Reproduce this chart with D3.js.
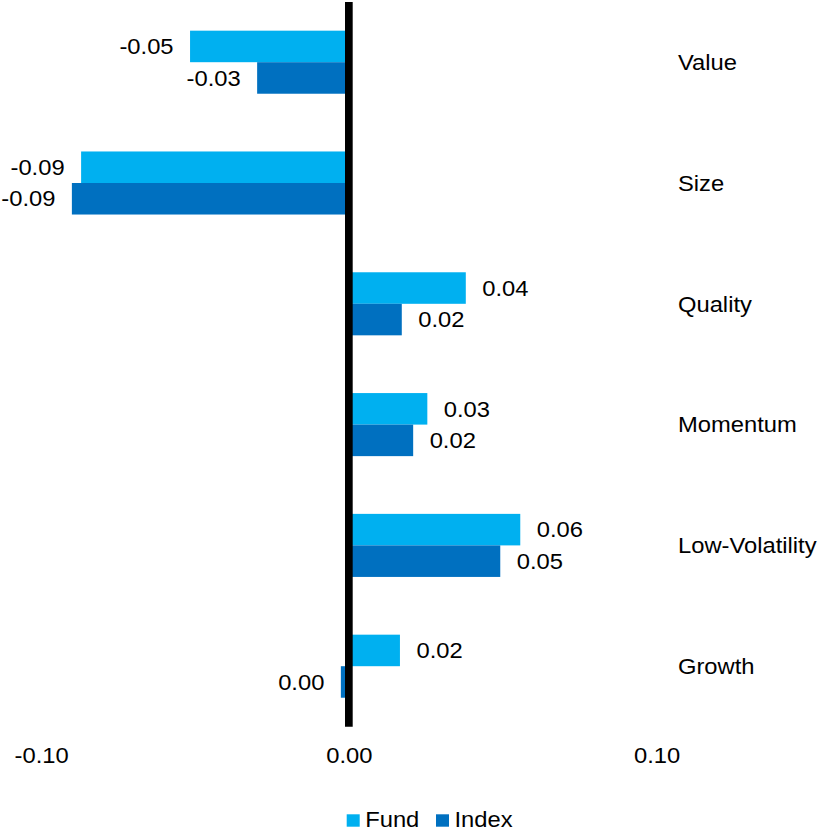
<!DOCTYPE html>
<html>
<head>
<meta charset="utf-8">
<script src="https://cdn.jsdelivr.net/npm/d3@7"></script>
<style>
  html, body { margin: 0; padding: 0; background: #fff; }
  svg { display: block; font-family: "Liberation Sans", Arial, sans-serif; }
</style>
</head>
<body>
<svg id="chart" width="818" height="831"></svg>
<script>
// Factor exposures, fund vs. index
const categories = ["Value", "Size", "Quality", "Momentum", "Low-Volatility", "Growth"];
const seriesNames = ["Fund", "Index"];
const fundValues  = [-0.0516, -0.0870, 0.0380, 0.0255, 0.0557, 0.0166];
const indexValues = [-0.0298, -0.0900, 0.0172, 0.0209, 0.0492, -0.0026];
const tickValues = [-0.10, 0.00, 0.10];
const colors = ["#00B0F0", "#0070C0"];

const series = [fundValues, indexValues];
const rows = categories.map((c, i) => ({
  category: c,
  values: seriesNames.map((s, j) => ({ series: s, value: series[j][i] }))
}));

const svg = d3.select("#chart");
const fontSize = 22;
const stretch = 1.08; // slightly wide lettering

const x = d3.scaleLinear().domain([-0.10, 0.10]).range([41.1, 656.6]);
const y = d3.scaleBand().domain(categories).range([1.8, 726.6])
  .paddingInner(0.478).paddingOuter(0.239);
const ySub = d3.scaleBand().domain(seriesNames).range([0, y.bandwidth()]);
const color = d3.scaleOrdinal().domain(seriesNames).range(colors);

// two-decimal labels with a plain hyphen and no negative zero
const fmt = v => {
  const s = Math.abs(v).toFixed(2);
  return (v < 0 && +s !== 0 ? "-" : "") + s;
};

// bars
const groups = svg.append("g").selectAll("g")
  .data(rows).join("g")
  .attr("transform", d => `translate(0,${y(d.category)})`);

groups.selectAll("rect")
  .data(d => d.values).join("rect")
  .attr("x", d => Math.min(x(0), x(d.value)))
  .attr("y", d => ySub(d.series))
  .attr("width", d => Math.abs(x(d.value) - x(0)))
  .attr("height", ySub.bandwidth())
  .attr("fill", d => color(d.series));

// value labels
groups.selectAll("text")
  .data(d => d.values).join("text")
  .attr("transform", d => {
    const tx = d.value < 0 ? x(d.value) - 16.5 : x(d.value) + 16.5;
    const ty = ySub(d.series) + ySub.bandwidth() / 2;
    return `translate(${tx},${ty}) scale(${stretch},1)`;
  })
  .attr("dy", "0.35em")
  .attr("text-anchor", d => d.value < 0 ? "end" : "start")
  .attr("font-size", fontSize)
  .attr("fill", "#000")
  .text(d => fmt(d.value));

// zero line
svg.append("line")
  .attr("x1", x(0)).attr("x2", x(0))
  .attr("y1", 2).attr("y2", 726.7)
  .attr("stroke", "#000")
  .attr("stroke-width", 7.7);

// category labels on the right
const yAxis = d3.axisRight(y).tickSize(0).tickPadding(0);
const yAxisG = svg.append("g")
  .attr("transform", `translate(678,0)`)
  .call(yAxis);
yAxisG.select(".domain").remove();
yAxisG.selectAll("text")
  .attr("font-size", fontSize)
  .attr("font-family", "Liberation Sans, Arial, sans-serif")
  .attr("fill", "#000")
  .attr("dy", "0.35em")
  .attr("transform", `scale(${stretch},1)`);

// value axis tick labels
const xAxis = d3.axisBottom(x).tickValues(tickValues).tickSize(0).tickPadding(0)
  .tickFormat(fmt);
const xAxisG = svg.append("g")
  .attr("transform", `translate(0,763)`)
  .call(xAxis);
xAxisG.select(".domain").remove();
xAxisG.selectAll("text")
  .attr("font-size", fontSize)
  .attr("font-family", "Liberation Sans, Arial, sans-serif")
  .attr("fill", "#000")
  .attr("dy", 0)
  .attr("y", 0)
  .attr("transform", `scale(${stretch},1)`);

// legend
const legendX = [346.7, 436];
const legend = svg.append("g").selectAll("g")
  .data(seriesNames).join("g")
  .attr("transform", (d, i) => `translate(${legendX[i]},0)`);
legend.append("rect")
  .attr("x", 0).attr("y", 814.3)
  .attr("width", 13).attr("height", 12.4)
  .attr("fill", d => color(d));
legend.append("text")
  .attr("transform", `translate(18.5,826.5) scale(${stretch},1)`)
  .attr("font-size", fontSize)
  .attr("fill", "#000")
  .text(d => d);
</script>
</body>
</html>
